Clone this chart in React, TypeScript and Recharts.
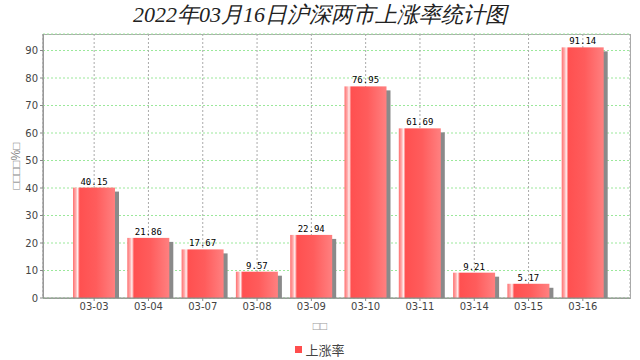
import { Bar, BarChart, CartesianGrid, LabelList, XAxis, YAxis } from "recharts";

const dates = ["03-03", "03-04", "03-07", "03-08", "03-09", "03-10", "03-11", "03-14", "03-15", "03-16"];
const upRate = [40.15, 21.86, 17.67, 9.57, 22.94, 76.95, 61.69, 9.21, 5.17, 91.14];
const yTicks = [0, 10, 20, 30, 40, 50, 60, 70, 80, 90];

const data = dates.map((d, i) => ({ date: d, rate: upRate[i] }));

const tickStyle = { fill: "#444", fontSize: 10, fontFamily: "DejaVu Sans" };

function ShadowBar(props: any) {
  const { x, y, width, height } = props;
  if (!height || height <= 0) return null;
  return (
    <g>
      <rect x={x + 4} y={y + 4} width={width} height={height - 4} fill="#8a8a8a" />
      <rect x={x} y={y} width={width} height={height} fill="url(#barGrad)" />
    </g>
  );
}

export default function App() {
  return (
    <div style={{ position: "absolute", left: 0, top: 0, width: 640, height: 360, background: "#fff" }}>
      <div
        style={{
          position: "absolute",
          top: 0,
          left: 0,
          width: 640,
          textAlign: "center",
          fontFamily: "Liberation Serif, serif",
          fontStyle: "italic",
          fontSize: 22,
          lineHeight: "30px",
          color: "#222",
        }}
      >
        2022年03月16日沪深两市上涨率统计图
      </div>
      <div
        style={{
          position: "absolute",
          left: 43,
          top: 34,
          width: 586,
          height: 263,
          border: "1px solid #aaa",
          pointerEvents: "none",
        }}
      />
      <BarChart width={640} height={360} data={data} margin={{ top: 34, right: 10, bottom: 42, left: 0 }}>
        <defs>
          <linearGradient id="barGrad" x1="0" y1="0" x2="1" y2="0">
            <stop offset="0%" stopColor="#ff7070" />
            <stop offset="7%" stopColor="#ffb0b0" />
            <stop offset="11%" stopColor="#fff0f0" />
            <stop offset="16%" stopColor="#ff5050" />
            <stop offset="55%" stopColor="#ff5c5c" />
            <stop offset="100%" stopColor="#ff8080" />
          </linearGradient>
        </defs>
        <CartesianGrid vertical={false} stroke="#9be89b" strokeDasharray="2 2" />
        <CartesianGrid horizontal={false} stroke="#aaa" strokeDasharray="2 2" />
        <XAxis
          dataKey="date"
          padding={{ left: 24, right: 20 }}
          tick={tickStyle}
          tickLine={{ stroke: "#888" }}
          tickSize={3}
          axisLine={{ stroke: "#888" }}
          height={20}
        />
        <YAxis
          domain={[0, 96]}
          ticks={yTicks}
          width={43}
          tick={tickStyle}
          tickLine={{ stroke: "#888" }}
          tickSize={3}
          axisLine={{ stroke: "#888" }}
          label={{
            value: "□□□□%□",
            angle: -90,
            position: "insideLeft",
            offset: 16,
            style: { fill: "#888", fontSize: 12, fontFamily: "Liberation Sans", textAnchor: "middle" },
          }}
        />
        <Bar dataKey="rate" barSize={42} shape={<ShadowBar />} isAnimationActive={false}>
          <LabelList
            dataKey="rate"
            position="top"
            offset={3}
            formatter={(v: any) => Number(v).toFixed(2)}
            style={{ fill: "#000", fontSize: 9, fontFamily: "DejaVu Sans Mono" }}
          />
        </Bar>
      </BarChart>
      <div
        style={{
          position: "absolute",
          top: 319,
          left: 0,
          width: 640,
          textAlign: "center",
          fontSize: 12,
          color: "#999",
          fontFamily: "Liberation Sans",
        }}
      >
        □□
      </div>
      <div
        style={{
          position: "absolute",
          top: 340,
          left: 0,
          width: 640,
          display: "flex",
          justifyContent: "center",
          alignItems: "center",
          gap: 3,
          fontSize: 13,
          color: "#444",
          fontFamily: "Noto Sans CJK SC",
        }}
      >
        <span style={{ display: "inline-block", width: 7, height: 7, background: "#ff4d4d" }} />
        <span>上涨率</span>
      </div>
    </div>
  );
}
